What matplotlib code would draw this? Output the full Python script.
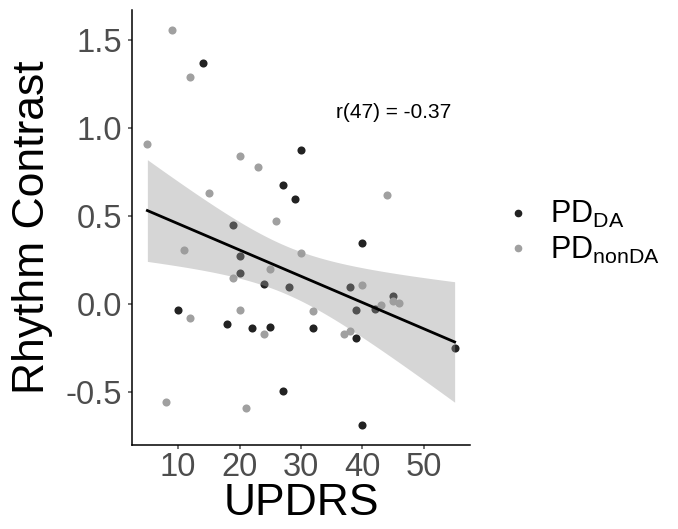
import numpy as np
import matplotlib
matplotlib.use('Agg')
import matplotlib.pyplot as plt
from matplotlib.lines import Line2D

plt.rcParams['font.family'] = ['Liberation Sans', 'DejaVu Sans']

# UPDRS score and rhythm contrast, per group
da_updrs = [14, 30, 27, 29, 19, 20, 20, 24, 28, 10, 18, 22, 25, 27,
            40, 38, 45, 42, 39, 32, 39, 55, 40]
da_rhythm = [1.370, 0.873, 0.675, 0.597, 0.452, 0.272, 0.178, 0.113, 0.096, -0.034,
             -0.110, -0.138, -0.132, -0.491, 0.350, 0.095, 0.049, -0.026, -0.034,
             -0.138, -0.195, -0.251, -0.684]
nonda_updrs = [9, 12, 5, 20, 23, 15, 26, 44, 11, 30, 25, 19, 12, 20, 24, 8, 21,
               40, 45, 46, 43, 32, 37, 38]
nonda_rhythm = [1.559, 1.289, 0.911, 0.841, 0.778, 0.633, 0.472, 0.622, 0.306, 0.293,
                0.200, 0.147, -0.081, -0.034, -0.170, -0.557, -0.588, 0.108, 0.017,
                0.008, -0.006, -0.040, -0.172, -0.153]
annot = 'r(47) = -0.37'

c_da = '#222222'
c_nonda = '#a0a0a0'

fig = plt.figure(figsize=(6.78, 5.29), dpi=100)
ax = fig.add_axes([0.1947, 0.1588, 0.4985, 0.822])

ax.scatter(da_updrs, da_rhythm, s=34, color=c_da, zorder=2, linewidths=0)
ax.scatter(nonda_updrs, nonda_rhythm, s=34, color=c_nonda, zorder=2, linewidths=0)

# linear fit with 95% confidence band over all points
x = np.array(da_updrs + nonda_updrs, dtype=float)
y = np.array(da_rhythm + nonda_rhythm)
n = len(x)
b1, b0 = np.polyfit(x, y, 1)
resid = y - (b0 + b1 * x)
s = np.sqrt(np.sum(resid ** 2) / (n - 2))
xs = np.linspace(x.min(), x.max(), 80)
ys = b0 + b1 * xs
se = s * np.sqrt(1 / n + (xs - x.mean()) ** 2 / np.sum((x - x.mean()) ** 2))
tcrit = 2.0117
ax.fill_between(xs, ys - tcrit * se, ys + tcrit * se, color='#999999', alpha=0.4,
                linewidth=0, zorder=3)
ax.plot(xs, ys, color='black', lw=2, zorder=4)

ax.text(45, 1.09, annot, ha='center', va='center', fontsize=15)

ax.set_xlim(2.5, 57.5)
ax.set_ylim(-0.8, 1.67)
ax.set_xticks([10, 20, 30, 40, 50])
ax.set_yticks([-0.5, 0.0, 0.5, 1.0, 1.5])
ax.set_yticklabels(['-0.5', '0.0', '0.5', '1.0', '1.5'])
for sp in ['top', 'right']:
    ax.spines[sp].set_visible(False)
for sp in ['left', 'bottom']:
    ax.spines[sp].set_linewidth(1.1)
ax.tick_params(labelsize=23.5, colors='#4d4d4d', length=3, width=1.1)
ax.tick_params(axis='x', pad=2)
ax.tick_params(axis='y', pad=4)
ax.set_xlabel('UPDRS', fontsize=32, labelpad=0)
ax.set_ylabel('Rhythm Contrast', fontsize=32, labelpad=9)

handles = [Line2D([], [], ls='', marker='o', ms=4.5, color=c_da),
           Line2D([], [], ls='', marker='o', ms=4.5, color=c_nonda)]
fig.legend(handles, [r'$\mathregular{PD_{DA}}$', r'$\mathregular{PD_{nonDA}}$'],
           loc='center left', bbox_to_anchor=(0.697, 0.56), frameon=False,
           fontsize=22, handletextpad=0.45, labelspacing=0.15, handlelength=1.2)

fig.savefig('out.png', dpi=100)
